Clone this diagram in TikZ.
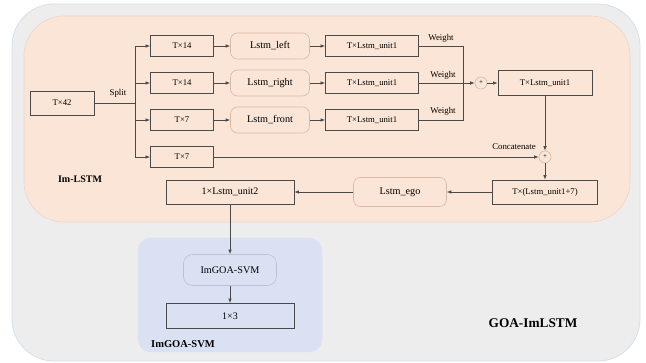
\documentclass[tikz,border=0pt]{standalone}
\usepackage{fontspec}
\setmainfont{Liberation Serif}
\usetikzlibrary{arrows.meta}

\definecolor{outergray}{HTML}{EDEDED}
\definecolor{outerline}{HTML}{D5E0EE}
\definecolor{lstmfill}{HTML}{FBE5D6}
\definecolor{lstmline}{HTML}{E9D6CB}
\definecolor{svmfill}{HTML}{D9E1F2}
\definecolor{svmline}{HTML}{B9C2D6}
\definecolor{boxline}{HTML}{4A4A4A}
\definecolor{softline}{HTML}{D7B9A5}

\tikzset{
	sq/.style={draw=boxline,line width=0.8pt,inner sep=0pt,minimum height=21,font=\fontsize{8.7}{10}\selectfont},
	rnd/.style={draw=softline,line width=0.6pt,rounded corners=7,inner sep=0pt,font=\fontsize{10.2}{12}\selectfont},
	plus/.style={circle,draw=softline,line width=0.6pt,minimum size=12,inner sep=0pt,font=\fontsize{7}{8}\selectfont},
	lbl/.style={inner sep=0pt,font=\fontsize{8.8}{10}\selectfont},
	ttl/.style={inner sep=0pt,font=\bfseries\fontsize{10}{12}\selectfont},
	arr/.style={-{Latex[length=4.5pt,width=3.5pt]},line width=0.7pt,draw=boxline},
	ln/.style={line width=0.7pt,draw=boxline}
}

\begin{document}
\begin{tikzpicture}[x=1pt,y=-1pt]
	\useasboundingbox (0,0) rectangle (646,363);

	\filldraw[fill=outergray,draw=outerline,line width=0.8pt,rounded corners=42] (12,4) rectangle (640,361);
	\filldraw[fill=lstmfill,draw=lstmline,line width=0.6pt,rounded corners=40] (24,16) rectangle (630,222);
	\filldraw[fill=svmfill,draw=svmfill,rounded corners=13] (138,238) rectangle (322,352);

	\node[sq,minimum width=64,minimum height=24] (t42) at (62,103) {T×42};

	\node[sq,minimum width=63] (ta) at (182,46) {T×14};
	\node[sq,minimum width=63] (tb) at (182,83) {T×14};
	\node[sq,minimum width=63] (tc) at (182,120) {T×7};
	\node[sq,minimum width=63] (td) at (182,157) {T×7};

	\node[rnd,minimum width=79,minimum height=26] (la) at (270,46) {Lstm\_left};
	\node[rnd,minimum width=79,minimum height=26] (lb) at (270,83) {Lstm\_right};
	\node[rnd,minimum width=79,minimum height=26] (lc) at (270,120) {Lstm\_front};

	\node[sq,minimum width=93] (ua) at (372,46) {T×Lstm\_unit1};
	\node[sq,minimum width=93] (ub) at (372,83) {T×Lstm\_unit1};
	\node[sq,minimum width=93] (uc) at (372,120) {T×Lstm\_unit1};

	\node[plus] (p1) at (481,83) {+};
	\node[sq,minimum width=94,minimum height=25] (um) at (545,83) {T×Lstm\_unit1};
	\node[plus] (p2) at (545,157) {+};
	\node[sq,minimum width=105,minimum height=24] (tcat) at (545,192) {T×(Lstm\_unit1+7)};
	\node[rnd,minimum width=93,minimum height=29] (lego) at (400,192) {Lstm\_ego};
	\node[sq,minimum width=128,minimum height=24,font=\fontsize{10}{12}\selectfont] (u2) at (230,192) {1×Lstm\_unit2};

	\node[rnd,draw=svmline,minimum width=93,minimum height=31,rounded corners=9] (svm) at (230,270) {ImGOA-SVM};
	\node[sq,minimum width=128,minimum height=25,font=\fontsize{10}{12}\selectfont] (out) at (230,316) {1×3};

	\coordinate (sp) at (135,103);
	\coordinate (jn) at (463,83);

	\draw[ln] (t42.east) -- (sp);
	\draw[arr] (sp) |- (ta.west);
	\draw[arr] (sp) |- (tb.west);
	\draw[arr] (sp) |- (tc.west);
	\draw[arr] (sp) |- (td.west);

	\draw[arr] (ta) -- (la);
	\draw[arr] (tb) -- (lb);
	\draw[arr] (tc) -- (lc);
	\draw[arr] (la) -- (ua);
	\draw[arr] (lb) -- (ub);
	\draw[arr] (lc) -- (uc);

	\draw[ln] (ua.east) -| (jn);
	\draw[ln] (uc.east) -| (jn);
	\draw[arr] (ub.east) -- (p1.west);
	\draw[arr] (p1.east) -- (um.west);
	\draw[arr] (um.south) -- (p2.north);
	\draw[arr] (td.east) -- (p2.west);
	\draw[arr] (p2.south) -- (tcat.north);
	\draw[arr] (tcat.west) -- (lego.east);
	\draw[arr] (lego.west) -- (u2.east);
	\draw[arr] (u2.south) -- (svm.north);
	\draw[arr] (svm.south) -- (out.north);

	\node[lbl] (split) at (118,93) {Split};
	\node[lbl] (w1) at (441,38) {Weight};
	\node[lbl] (w2) at (443,75) {Weight};
	\node[lbl] (w3) at (443,111) {Weight};
	\node[lbl] (cat) at (514,147) {Concatenate};

	\node[ttl] (imlstm) at (80,179) {Im-LSTM};
	\node[ttl,font=\bfseries\fontsize{10.5}{12}\selectfont] (imsvm) at (183,344) {ImGOA-SVM};
	\node[ttl,font=\bfseries\fontsize{13.3}{15}\selectfont] (goa) at (533,323) {GOA-ImLSTM};
\end{tikzpicture}
\end{document}
